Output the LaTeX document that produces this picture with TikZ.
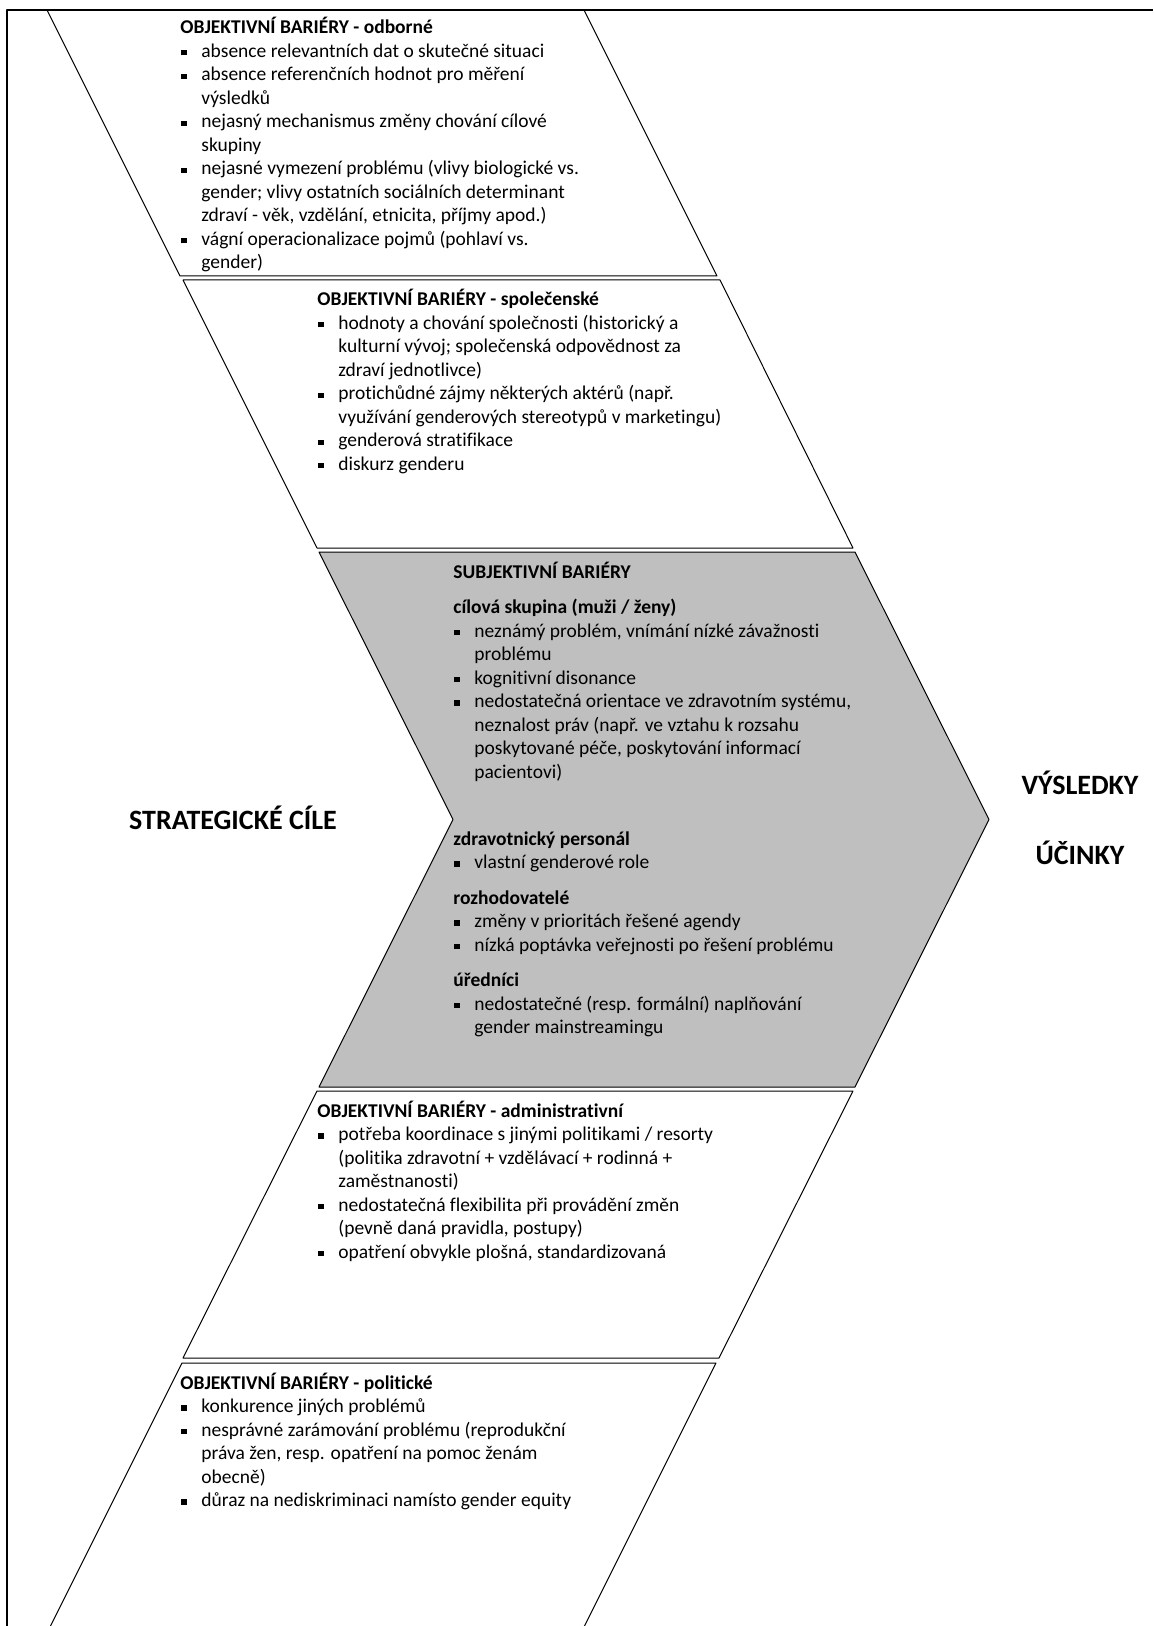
\documentclass[tikz,border=0pt]{standalone}
\usepackage{fontspec}
\setmainfont{Carlito}[Ligatures={TeX,NoCommon}]
\definecolor{subjgrey}{HTML}{BFBFBF}
\newcommand{\bul}{\raisebox{1pt}{\rule{2.6pt}{2.6pt}}}
\newcommand{\itm}[1]{\par\noindent\hangindent=10.5pt\hangafter=1\makebox[10.5pt][l]{\hspace{0.5pt}\bul}#1}
\newcommand{\blk}[1]{\parbox[t]{330pt}{\fontsize{9.75}{11.75}\selectfont\raggedright #1}}
\tikzset{
  bar/.style={draw=black,line width=0.5pt,fill=white},
  subjbar/.style={bar,fill=subjgrey},
  lst/.style={anchor=base west,inner sep=0pt},
  big/.style={anchor=base,inner sep=0pt,font=\fontsize{14}{17}\selectfont\bfseries}
}
\begin{document}
\begin{tikzpicture}[x=0.5pt,y=-0.5pt,line join=round]
			\useasboundingbox (0,0) rectangle (1153,1626);
			\clip (0,0) rectangle (1153,1626);
			\draw [bar] (47,10)--(584,10)--(717,276)--(180,276)--cycle;
			\draw [bar] (183,280)--(720,280)--(853,548)--(317,548)--cycle;
			\draw [subjbar] (319,552)--(855,552)--(989,819.5)--(855,1087)--(319,1087)--(453,819.5)--cycle;
			\draw [bar] (317,1091)--(853,1091)--(719,1358)--(183,1358)--cycle;
			\draw [bar] (182,1363)--(716,1363)--(582,1631)--(48,1631)--cycle;
			\node [lst] (odborne) at (180,34) {\blk{\textbf{OBJEKTIVNÍ BARIÉRY - odborné}
				\itm{absence relevantních dat o skutečné situaci}
				\itm{absence referenčních hodnot pro měření\newline výsledků}
				\itm{nejasný mechanismus změny chování cílové\newline skupiny}
				\itm{nejasné vymezení problému (vlivy biologické vs.\newline gender; vlivy ostatních sociálních determinant\newline zdraví - věk, vzdělání, etnicita, příjmy apod.)}
				\itm{vágní operacionalizace pojmů (pohlaví vs.\newline gender)}}};
			\node [lst] (spolecenske) at (317,306) {\blk{\textbf{OBJEKTIVNÍ BARIÉRY - společenské}
				\itm{hodnoty a chování společnosti (historický a\newline kulturní vývoj; společenská odpovědnost za\newline zdraví jednotlivce)}
				\itm{protichůdné zájmy některých aktérů (např.\newline využívání genderových stereotypů v marketingu)}
				\itm{genderová stratifikace}
				\itm{diskurz genderu}}};
			\node [lst] (subjektivni) at (453,578) {\blk{\textbf{SUBJEKTIVNÍ BARIÉRY}\par\vspace{6pt}
				\noindent\textbf{cílová skupina (muži / ženy)}
				\itm{neznámý problém, vnímání nízké závažnosti\newline problému}
				\itm{kognitivní disonance}
				\itm{nedostatečná orientace ve zdravotním systému,\newline neznalost práv (např. ve vztahu k rozsahu\newline poskytované péče, poskytování informací\newline pacientovi)}
				\par\vspace{21.75pt}\noindent\textbf{zdravotnický personál}
				\itm{vlastní genderové role}
				\par\vspace{6pt}\noindent\textbf{rozhodovatelé}
				\itm{změny v prioritách řešené agendy}
				\itm{nízká poptávka veřejnosti po řešení problému}
				\par\vspace{6pt}\noindent\textbf{úředníci}
				\itm{nedostatečné (resp. formální) naplňování\newline gender mainstreamingu}}};
			\node [lst] (administrativni) at (317,1117) {\blk{\textbf{OBJEKTIVNÍ BARIÉRY - administrativní}
				\itm{potřeba koordinace s jinými politikami / resorty\newline (politika zdravotní + vzdělávací + rodinná +\newline zaměstnanosti)}
				\itm{nedostatečná flexibilita při provádění změn\newline (pevně daná pravidla, postupy)}
				\itm{opatření obvykle plošná, standardizovaná}}};
			\node [lst] (politicke) at (180,1389) {\blk{\textbf{OBJEKTIVNÍ BARIÉRY - politické}
				\itm{konkurence jiných problémů}
				\itm{nesprávné zarámování problému (reprodukční\newline práva žen, resp. opatření na pomoc ženám\newline obecně)}
				\itm{důraz na nediskriminaci namísto gender equity}}};
			\node [big] (cile) at (233,829) {STRATEGICKÉ CÍLE};
			\node [big] (vysledky) at (1080,794) {VÝSLEDKY};
			\node [big] (ucinky) at (1080,864) {ÚČINKY};
			\draw [line width=1pt] (7,1626)--(7,10)--(1153,10);
		\end{tikzpicture}
\end{document}
